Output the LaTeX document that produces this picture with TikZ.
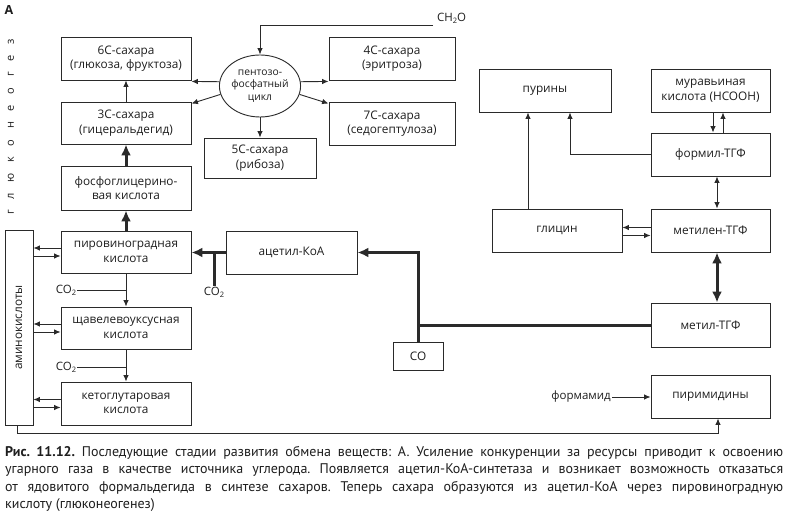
\documentclass[tikz,border=0pt]{standalone}
\usepackage{fontspec}
\setmainfont{Open Sans}
\newfontfamily\capfont{PT Sans}
\usetikzlibrary{arrows.meta,shapes.geometric}
\definecolor{ln}{HTML}{2A2A2A}
\definecolor{tx}{HTML}{1E1E1E}
\frenchspacing
\tikzset{
  bx/.style 2 args={draw=ln, line width=0.9pt, minimum width=#1, minimum height=#2,
    align=center, inner sep=1pt, text=tx, font=\fontsize{11.8}{14.5}\selectfont},
  lbl/.style={text=tx, inner sep=1pt, font=\fontsize{11.5}{13}\selectfont},
  ar/.style={draw=ln, line width=0.9pt, -{Latex[length=6.5pt,width=5.5pt]}},
  dar/.style={draw=ln, line width=0.9pt, {Latex[length=6.5pt,width=5.5pt]}-{Latex[length=6.5pt,width=5.5pt]}},
  thn/.style={draw=ln, line width=0.9pt},
  tk/.style={draw=ln, line width=3pt},
  tkar/.style={draw=ln, line width=3pt, -{Latex[length=11pt,width=10pt]}},
  tkdar/.style={draw=ln, line width=3pt, {Latex[length=11pt,width=10pt]}-{Latex[length=11pt,width=10pt]}},
  captxt/.style={text=tx, inner sep=0pt, font=\capfont\fontsize{14}{15}\selectfont},
}
\newcommand{\sub}[1]{\raisebox{-0.35ex}{\fontsize{7.5}{7.5}\selectfont #1}}
\begin{document}
\begin{tikzpicture}[x=1pt,y=-1pt]
\useasboundingbox (0,0) rectangle (790,513);
\fill[white] (0,0) rectangle (790,513);

% title and vertical label
\node[text=tx, inner sep=0pt, font=\fontsize{12.5}{12}\selectfont\bfseries] (ttl) at (9,10) {А};
\node[text=tx, inner sep=0pt, rotate=90, font=\fontsize{11}{12}\selectfont] (glu) at (11,127)
  {\makebox[176pt]{г\hfill л\hfill ю\hfill к\hfill о\hfill н\hfill е\hfill о\hfill г\hfill е\hfill з}};

% left column
\node[bx={130pt}{43pt}] (s6) at (126,58.5) {6С-сахара\\(глюкоза, фруктоза)};
\node[bx={130pt}{42pt}] (s3) at (126,123) {3С-сахара\\(гицеральдегид)};
\node[bx={130pt}{44pt}] (pg) at (126,188) {фосфоглицерино-\\вая кислота};
\node[bx={130pt}{42pt}] (pyr) at (126,252) {пировиноградная\\кислота};
\node[bx={130pt}{42pt}] (oxa) at (126,328) {щавелевоуксусная\\кислота};
\node[bx={130pt}{43pt}] (keto) at (126,403.5) {кетоглутаровая\\кислота};
\node[bx={28pt}{195pt}] (amino) at (19,327.5) {};
\node[text=tx, rotate=90, inner sep=0pt, font=\fontsize{11.8}{12}\selectfont] (aminot) at (amino.center) {аминокислоты};

% pentose phosphate cycle
\node[ellipse, draw=ln, line width=0.9pt, minimum width=76pt, minimum height=62pt, inner sep=0pt,
  align=center, text=tx, font=\fontsize{10.3}{12.5}\selectfont] (ppc) at (260,86) {пентозо-\\фосфатный\\цикл};
\node[bx={126pt}{43pt}] (s4) at (392,58.5) {4С-сахара\\(эритроза)};
\node[bx={126pt}{43pt}] (s7) at (392,123.5) {7С-сахара\\(седогептулоза)};
\node[bx={112pt}{40pt}] (s5) at (260,158) {5С-сахара\\(рибоза)};
\node[lbl, anchor=west] (ch2o) at (436,18) {CH\sub{2}O};
\coordinate (chl) at (433,25);

% acetyl-CoA, CO
\node[bx={131pt}{43pt}] (acoa) at (291.5,252.5) {ацетил-КоА};
\node[bx={50pt}{28pt}] (co) at (418,356) {CO};
\node[lbl, anchor=north] (co2c) at (214,286) {CO\sub{2}};
\node[lbl] (co2a) at (66,290) {CO\sub{2}};
\node[lbl] (co2b) at (66,367) {CO\sub{2}};

% right part
\node[bx={132pt}{43pt}] (pur) at (545,90.5) {пурины};
\node[bx={119pt}{43pt}] (hcooh) at (710.5,90.5) {муравьиная\\кислота (HCOOH)};
\node[bx={119pt}{43pt}] (formyl) at (710.5,154.5) {формил-ТГФ};
\node[bx={130pt}{43pt}] (gly) at (557,230.5) {глицин};
\node[bx={119pt}{43pt}] (mtl) at (710.5,230.5) {метилен-ТГФ};
\node[bx={119pt}{44pt}] (methyl) at (710.5,325) {метил-ТГФ};
\node[bx={119pt}{43pt}] (pyrim) at (710.5,396.5) {пиримидины};
\node[lbl, anchor=east] (fam) at (612,397) {формамид};

% connectors left column
\draw[ar] (s3.north) -- (s6.south);
\draw[tkar] (pg.north) -- (s3.south);
\draw[tkar] (pyr.north) -- (pg.south);
\draw[ar] (pyr.south) -- (oxa.north);
\draw[ar] (oxa.south) -- (keto.north);
\draw[thn] (co2a.east) -- (co2a.east -| pyr.south);
\draw[thn] (co2b.east) -- (co2b.east -| oxa.south);
\foreach \b in {pyr,oxa,keto}{
  \draw[ar] ([yshift=4pt]\b.west) -- ([yshift=4pt]\b.west -| amino.east);
  \draw[ar] ([yshift=-4pt]\b.west -| amino.east) -- ([yshift=-4pt]\b.west);
}
\draw[ar] ([xshift=-2pt]amino.south) -- ++(0,8) -| ([xshift=7.5pt]pyrim.south);

% pentose cycle connectors
\draw[ar] (chl) -| (ppc.north);
\draw[ar] (ppc.174) -- ([yshift=-1pt]s6.south east);
\draw[ar] (ppc.192) -- ([yshift=-2pt]s3.north east);
\draw[ar] (ppc.6) -- ([yshift=-1pt]s4.south west);
\draw[ar] (ppc.348) -- ([yshift=-2pt]s7.north west);
\draw[ar] (ppc.south) -- (s5.north);

% acetyl-CoA pathway
\draw[tkar] (acoa.west) -- (acoa.west -| pyr.east);
\draw[tk] (co2c.north) -- (co2c.north |- acoa.west);
\draw[tkar] (co.north) |- (acoa.east);
\draw[tk] (co.north |- methyl.west) -- (methyl.west);

% right connectors
\draw[tkdar] ([xshift=6.5pt]mtl.south) -- ([xshift=6.5pt]methyl.north);
\draw[dar] ([xshift=6.5pt]formyl.south) -- ([xshift=6.5pt]mtl.north);
\draw[ar] ([xshift=2.5pt]hcooh.south) -- ([xshift=2.5pt]formyl.north);
\draw[ar] ([xshift=12.5pt]formyl.north) -- ([xshift=12.5pt]hcooh.south);
\draw[ar] (formyl.west) -| ([xshift=25pt]pur.south);
\draw[ar] ([xshift=-29pt]gly.north) -- ([xshift=-29pt]gly.north |- pur.south);
\draw[ar] ([yshift=3pt]mtl.west) -- ([yshift=3pt]gly.east);
\draw[ar] ([yshift=-5pt]gly.east) -- ([yshift=-5pt]mtl.west);
\draw[ar] (fam.east) -- (fam.east -| pyrim.west);

% caption
\node[captxt, anchor=base west] (c1) at (5,456) {\makebox[778pt][s]{\textbf{Рис. 11.12.} Последующие стадии развития обмена веществ: А. Усиление конкуренции за ресурсы приводит к освоению}};
\node[captxt, anchor=base west] (c2) at (5,473) {\makebox[778pt][s]{угарного газа в качестве источника углерода. Появляется ацетил-КоА-синтетаза и возникает возможность отказаться}};
\node[captxt, anchor=base west] (c3) at (5,491) {\makebox[778pt][s]{от ядовитого формальдегида в синтезе сахаров. Теперь сахара образуются из ацетил-КоА через пировиноградную}};
\node[captxt, anchor=base west] (c4) at (5,508) {кислоту (глюконеогенез)};
\end{tikzpicture}
\end{document}
